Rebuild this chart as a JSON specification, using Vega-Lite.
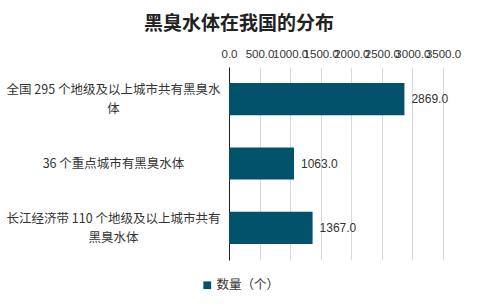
{
  "$schema": "https://vega.github.io/schema/vega-lite/v6.json",
  "autosize": {"type": "none"},
  "width": 214,
  "height": 193,
  "padding": {"left": 229, "top": 67, "right": 34, "bottom": 48},
  "background": "white",
  "title": {
    "text": "黑臭水体在我国的分布",
    "font": "Noto Sans CJK SC",
    "fontSize": 19,
    "fontWeight": "bold",
    "color": "#222222",
    "anchor": "middle",
    "dx": -97,
    "offset": 14
  },
  "data": {
    "values": [
      {"category": "全国 295 个地级及以上城市共有黑臭水\n体", "value": 2869, "series": "数量（个）", "order": 1},
      {"category": "36 个重点城市有黑臭水体", "value": 1063, "series": "数量（个）", "order": 2},
      {"category": "长江经济带 110 个地级及以上城市共有\n黑臭水体", "value": 1367, "series": "数量（个）", "order": 3}
    ]
  },
  "encoding": {
    "y": {
      "field": "category",
      "type": "nominal",
      "sort": {"field": "order"},
      "scale": {"paddingInner": 0.5, "paddingOuter": 0.25},
      "axis": {
        "title": null,
        "ticks": false,
        "labelAlign": "center",
        "labelPadding": 116,
        "labelExpr": "split(datum.label, '\\n')",
        "labelOffset": {"expr": "indexof(datum.label, '\\n') >= 0 ? -9 : 0"},
        "labelLineHeight": 19,
        "labelFont": "Noto Sans CJK SC",
        "labelFontSize": 12.5,
        "labelColor": "#333333",
        "labelLimit": 300,
        "domainColor": "#222222",
        "domainWidth": 1,
        "grid": false
      }
    },
    "x": {
      "field": "value",
      "type": "quantitative",
      "scale": {"domain": [0, 3500], "nice": false},
      "axis": {
        "orient": "top",
        "title": null,
        "values": [0, 500, 1000, 1500, 2000, 2500, 3000, 3500],
        "format": ".1f",
        "labelOverlap": false,
        "labelFont": "Liberation Sans",
        "labelFontSize": 11.5,
        "labelColor": "#333333",
        "labelPadding": 8,
        "ticks": false,
        "domain": false,
        "grid": true,
        "gridColor": "#d9d9d9",
        "labelFlush": false
      }
    }
  },
  "layer": [
    {
      "mark": {"type": "bar"},
      "encoding": {
        "color": {
          "field": "series",
          "type": "nominal",
          "scale": {"range": ["#03526b"]},
          "legend": {
            "title": null,
            "orient": "none",
            "legendX": -28,
            "legendY": 212,
            "symbolType": "square",
            "symbolSize": 60,
            "labelFont": "Noto Sans CJK SC",
            "labelFontSize": 12.5,
            "labelColor": "#333333",
            "labelOffset": 3
          }
        }
      }
    },
    {
      "mark": {"type": "text", "align": "left", "dx": 7, "font": "Liberation Sans", "fontSize": 12, "color": "#333333"},
      "encoding": {
        "text": {"field": "value", "type": "quantitative", "format": ".1f"}
      }
    }
  ],
  "config": {"view": {"stroke": null}}
}
